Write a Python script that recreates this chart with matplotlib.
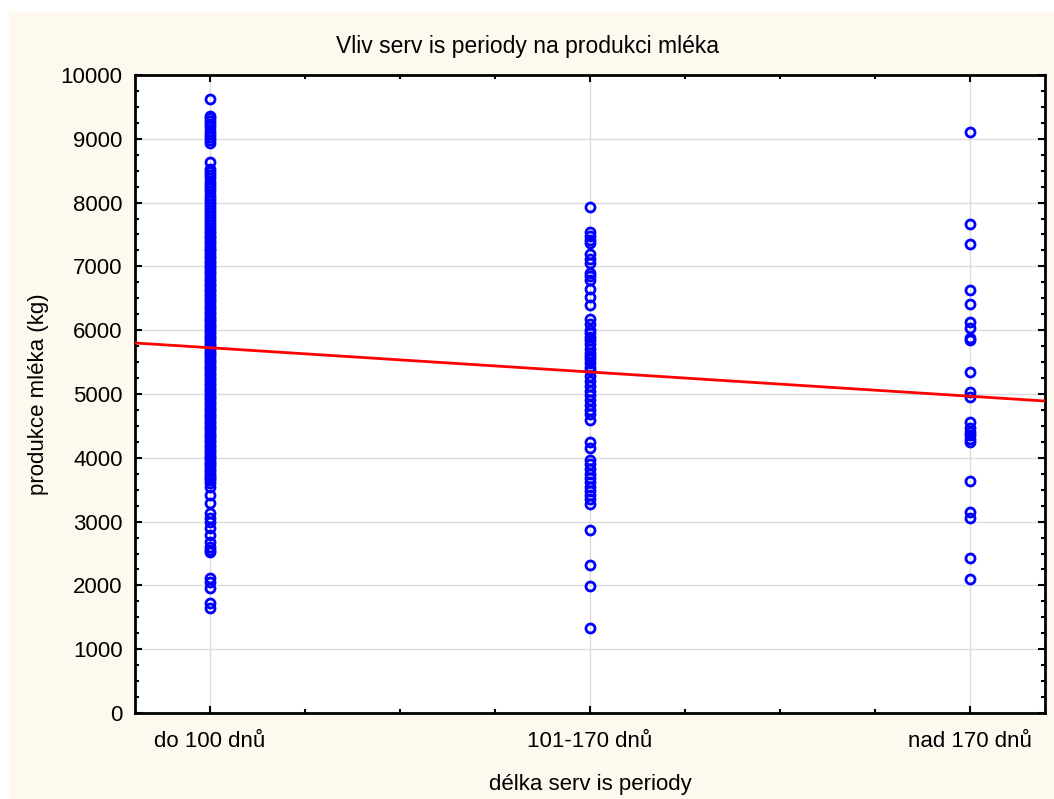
import matplotlib.pyplot as plt
from matplotlib.patches import Rectangle
from matplotlib.ticker import MultipleLocator, FixedLocator
import numpy as np

plt.rcParams['font.family'] = ['Liberation Sans', 'DejaVu Sans']

categories = ["do 100 dnů", "101-170 dnů", "nad 170 dnů"]

# milk yield (kg) per service-period group
milk_short = [
    9630, 9350, 9320, 9280, 9230, 9180, 9130, 9080, 9030, 8980, 8930,
    8640, 8520, 8480, 8430, 8380, 8330, 8280, 8230, 8180, 8120, 8070, 8020,
    7980, 7930, 7880, 7840, 7790, 7740, 7690, 7650, 7600, 7560, 7520, 7480,
    7440, 7400, 7360, 7320, 7280, 7250, 7210, 7170, 7130, 7090, 7050, 7010,
    6970, 6930, 6890, 6850, 6810, 6770, 6730, 6690, 6650, 6610, 6570, 6530,
    6490, 6450, 6410, 6370, 6330, 6290, 6250, 6210, 6180, 6140, 6100, 6060,
    6030, 5990, 5950, 5910, 5880, 5840, 5800, 5770, 5730, 5700, 5660, 5620,
    5590, 5550, 5510, 5480, 5440, 5400, 5370, 5330, 5290, 5250, 5220, 5180,
    5140, 5100, 5070, 5030, 4990, 4950, 4920, 4880, 4840, 4800, 4770, 4730,
    4690, 4650, 4620, 4580, 4540, 4500, 4470, 4430, 4390, 4350, 4320, 4280,
    4240, 4200, 4170, 4130, 4090, 4050, 4020, 3980, 3940, 3900, 3870, 3830,
    3790, 3750, 3720, 3690, 3650, 3600, 3540, 3420, 3290, 3130, 3060, 2990,
    2900, 2790, 2680, 2600, 2560, 2520, 2110, 2060, 1960, 1720, 1650,
]
milk_mid = [
    7930, 7540, 7480, 7420, 7360, 7200, 7120, 7060, 6900, 6850, 6780, 6650,
    6520, 6390, 6180, 6100, 6000, 5950, 5900, 5850, 5780, 5700, 5650, 5600,
    5550, 5480, 5420, 5370, 5280, 5200, 5120, 5050, 4980, 4900, 4820, 4750,
    4680, 4600, 4240, 4160, 3960, 3900, 3820, 3750, 3680, 3620, 3550, 3480,
    3420, 3350, 3280, 2870, 2320, 1990, 1330,
]
milk_long = [
    9100, 7660, 7350, 6630, 6410, 6130, 6030, 5880, 5850, 5340, 5030, 4950,
    4560, 4470, 4400, 4350, 4300, 4250, 3640, 3150, 3060, 2430, 2100,
]
groups = [milk_short, milk_mid, milk_long]

# linear fit: yield = slope * group + intercept
fit_slope = -380
fit_intercept = 6105

fig = plt.figure(figsize=(10.54, 7.99), dpi=100, facecolor="white")
# cream panel behind everything, leaving a thin white margin top/left
fig.patches.append(Rectangle((9 / 1054, 0), 1 - 9 / 1054, 1 - 12 / 799,
                             transform=fig.transFigure, facecolor="#fdf9ef",
                             edgecolor="none", zorder=-10))

ax = fig.add_axes([135 / 1054, 86 / 799, 910 / 1054, 638 / 799])
ax.set_zorder(1)
ax.set_facecolor("white")

for i, vals in enumerate(groups):
    xs = np.full(len(vals), i + 1)
    ax.plot(xs, vals, linestyle="none", marker="o", markersize=6.5,
            markerfacecolor="none", markeredgecolor="#0000ff",
            markeredgewidth=2, zorder=3)

xl = np.array([0.803, 3.197])
ax.plot(xl, fit_slope * xl + fit_intercept, color="#ff0000", lw=2, zorder=4)

ax.set_xlim(0.803, 3.197)
ax.set_ylim(0, 10000)
ax.xaxis.set_major_locator(FixedLocator([1, 2, 3]))
ax.set_xticklabels(categories)
ax.xaxis.set_minor_locator(MultipleLocator(0.25))
ax.yaxis.set_major_locator(MultipleLocator(1000))
ax.yaxis.set_minor_locator(MultipleLocator(250))

ax.grid(True, which="major", color="#dcdcdc", lw=1, zorder=0)
ax.set_axisbelow(True)
for s in ax.spines.values():
    s.set_linewidth(2)
ax.tick_params(which="both", direction="in", top=True, right=True,
               labelsize=16, width=1.5)
ax.tick_params(which="major", length=5)
ax.tick_params(axis="x", which="major", pad=13)
ax.tick_params(axis="y", which="major", pad=9)
ax.tick_params(which="minor", length=3)

# title centred on the whole figure
fig.text(0.5, 1 - 47 / 799, "Vliv serv is periody na produkci mléka",
         fontsize=16.5, ha="center", va="center")
ax.set_xlabel("délka serv is periody", fontsize=16, labelpad=16)
ax.set_ylabel("produkce mléka (kg)", fontsize=16, labelpad=8)

fig.savefig("out.png", dpi=100, facecolor=fig.get_facecolor())
